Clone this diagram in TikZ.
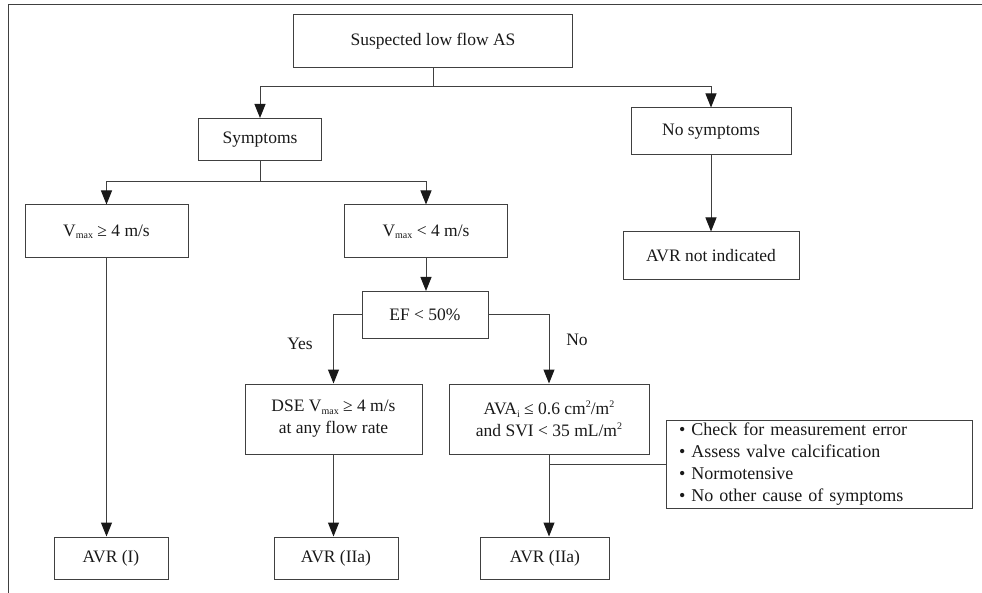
\documentclass[tikz,border=0pt]{standalone}
\usepackage{fontspec}
\setmainfont{Liberation Serif}
\usetikzlibrary{arrows.meta}
\newcommand\Vmx{V\lower0.3ex\hbox{\fontsize{10}{10}\selectfont max}}
\newcommand\supn[1]{\raisebox{0.9ex}{\fontsize{10}{10}\selectfont #1}}
\begin{document}
\begin{tikzpicture}[x=1pt,y=-1pt,
  box/.style={draw=black!75,line width=1pt,inner sep=0pt,align=center,
    font=\fontsize{17.5}{22}\selectfont,text=black!90},
  arr/.style={draw=black!75,line width=1pt,-{Triangle[length=14pt,width=11pt,color=black!90]}},
  ln/.style={draw=black!75,line width=1pt},
  lbl/.style={font=\fontsize{17.5}{20}\selectfont,text=black!90}]
\useasboundingbox (0,0) rectangle (982,593);
\draw[ln] (8,593) -- (8,5) -- (982,5);

\node[box,minimum width=279pt,minimum height=53pt] (title) at (433,41.5) {Suspected low flow AS};
\node[box,minimum width=123pt,minimum height=42pt] (sym) at (260,139.5) {Symptoms};
\node[box,minimum width=160pt,minimum height=47pt] (nosym) at (711,131.5) {No symptoms};
\node[box,minimum width=163pt,minimum height=53pt] (vhi) at (106.5,231.5) {\Vmx{} ≥ 4 m/s};
\node[box,minimum width=163pt,minimum height=53pt] (vlo) at (426,231.5) {\Vmx{} < 4 m/s};
\node[box,minimum width=176pt,minimum height=48pt] (avrni) at (711,256) {AVR not indicated};
\node[box,minimum width=126pt,minimum height=47pt] (ef) at (425,315) {EF < 50\%};
\node[box,minimum width=177pt,minimum height=70pt] (dse) at (333.5,419) {DSE \Vmx{} ≥ 4 m/s\\at any flow rate};
\node[box,minimum width=200pt,minimum height=70pt] (ava) at (549,419) {AVA\lower0.3ex\hbox{\fontsize{10}{10}\selectfont i} ≤ 0.6 cm\supn{2}/m\supn{2}\\and SVI < 35 mL/m\supn{2}};
\node[box,text width=280pt,inner xsep=13pt,minimum height=88pt,align=left,
  font=\fontsize{18}{22}\selectfont] (chk) at (819,464)
  {• Check for measurement error\\• Assess valve calcification\\• Normotensive\\• No other cause of symptoms};
\node[box,minimum width=114pt,minimum height=42pt] (avr1) at (111,558) {AVR (I)};
\node[box,minimum width=124pt,minimum height=42pt] (avr2) at (336,558) {AVR (IIa)};
\node[box,minimum width=129pt,minimum height=42pt] (avr3) at (545,558) {AVR (IIa)};

\coordinate (b1) at (433,87);
\draw[ln] (title.south) -- (b1);
\draw[arr] (b1) -| (sym.north);
\draw[arr] (b1) -| (nosym.north);
\coordinate (b2) at (260,182);
\draw[ln] (sym.south) -- (b2);
\draw[arr] (b2) -| (vhi.north);
\draw[arr] (b2) -| (vlo.north);
\draw[arr] (vhi.south) -- (vhi.south |- avr1.north);
\draw[arr] (vlo.south) -- (vlo.south |- ef.north);
\draw[arr] (nosym.south) -- (avrni.north);
\draw[arr] (ef.west) -| (dse.north);
\draw[arr] (ef.east) -| (ava.north);
\draw[arr] (dse.south) -- (dse.south |- avr2.north);
\draw[arr] (ava.south) -- (ava.south |- avr3.north);
\coordinate (b3) at (ava.south |- chk.west);
\draw[ln] (b3) -- (chk.west);

\node[lbl] (yes) at (300,344) {Yes};
\node[lbl] (no) at (577,340) {No};
\end{tikzpicture}
\end{document}
